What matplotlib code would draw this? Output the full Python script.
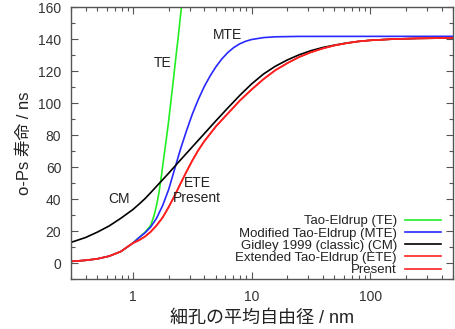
import matplotlib
matplotlib.use("Agg")
import matplotlib.pyplot as plt
from matplotlib.ticker import MultipleLocator, FixedLocator, NullFormatter

plt.rcParams['font.family'] = ['Liberation Sans', 'Noto Sans CJK JP']

# o-Ps lifetime (ns) vs mean free path (nm)
te_x = [0.3, 0.4, 0.5, 0.63, 0.79, 1.0, 1.12, 1.26, 1.41, 1.51, 1.58, 1.66, 1.74, 1.82,
        1.91, 2.0, 2.09, 2.19, 2.29, 2.40, 2.51, 2.63]
te_y = [1.0, 1.7, 2.6, 4.3, 7.2, 12.5, 15.8, 19.2, 23.5, 30.0, 36.0, 44.5, 55.0, 66.0,
        77.5, 89.0, 101.5, 114.5, 127.5, 140.5, 154.0, 167.5]

mte_x = [0.3, 0.4, 0.5, 0.63, 0.79, 1.0, 1.12, 1.26, 1.41, 1.58, 1.78, 2.0, 2.24, 2.51,
         2.82, 3.16, 3.55, 3.98, 4.47, 5.01, 5.62, 6.31, 7.08, 7.94, 8.91, 10, 12.6, 15.8,
         25.1, 500]
mte_y = [1.0, 1.7, 2.6, 4.3, 7.2, 12.5, 15.8, 18.8, 22.5, 28.0, 36.0, 46.0, 58.5, 71.0,
         82.5, 93.0, 102.2, 110.2, 117.0, 122.8, 127.7, 131.7, 134.8, 137.1, 138.7, 139.8,
         141.0, 141.5, 141.75, 141.8]

cm_x = [0.3, 0.4, 0.5, 0.63, 0.79, 1.0, 1.12, 1.26, 1.41, 1.58, 1.78, 2.0, 2.24, 2.51,
        3.16, 3.98, 5.01, 6.31, 7.94, 10, 12.6, 15.8, 20, 25.1, 31.6, 39.8, 50.1, 63.1,
        79.4, 100, 158, 251, 500]
cm_y = [12.9, 16.0, 19.3, 23.2, 28.0, 33.5, 36.7, 40.2, 44.0, 48.0, 52.1, 56.2, 60.3, 64.4,
        72.6, 80.8, 89.0, 97.0, 104.8, 112.0, 118.2, 123.0, 127.0, 130.2, 132.8, 134.8,
        136.3, 137.6, 138.6, 139.3, 140.1, 140.5, 140.8]

ete_x = [0.3, 0.4, 0.5, 0.63, 0.79, 1.0, 1.12, 1.26, 1.41, 1.58, 1.78, 2.0, 2.24, 2.51,
         2.82, 3.16, 3.55, 3.98, 5.01, 6.31, 7.94, 10, 12.6, 15.8, 20, 25.1, 31.6, 39.8,
         50.1, 63.1, 79.4, 100, 158, 251, 500]
ete_y = [1.0, 1.7, 2.6, 4.3, 7.2, 12.5, 14.2, 16.5, 19.5, 23.5, 28.5, 35.0, 42.0, 49.5,
         57.0, 64.0, 70.5, 76.0, 85.5, 93.5, 101.5, 108.5, 115.0, 120.5, 125.0, 128.8,
         131.8, 134.2, 136.1, 137.5, 138.6, 139.3, 140.1, 140.5, 140.8]

# Present curve lies on top of ETE
pr_x = ete_x
pr_y = ete_y

labels = ['Tao-Eldrup (TE)', 'Modified Tao-Eldrup (MTE)', 'Gidley 1999 (classic) (CM)',
          'Extended Tao-Eldrup (ETE)', 'Present']

fig = plt.figure(figsize=(4.56, 3.29), dpi=100)
ax = fig.add_axes([0.1557, 0.152, 0.8377, 0.826])

ax.plot(te_x, te_y, color='#22ee22', lw=1.2, label=labels[0])
ax.plot(mte_x, mte_y, color='#2828ff', lw=1.2, label=labels[1])
ax.plot(cm_x, cm_y, color='black', lw=1.2, label=labels[2])
ax.plot(ete_x, ete_y, color='#ff2020', lw=1.2, label=labels[3])
ax.plot(pr_x, pr_y, color='#ff2020', lw=1.2, label=labels[4])

ax.set_xscale('log')
ax.set_xlim(0.3, 500)
ax.set_ylim(-10, 160)

ax.set_xticks([1, 10, 100])
ax.set_xticklabels(['1', '10', '100'])
ax.xaxis.set_minor_locator(FixedLocator([m * 10**e for e in range(-1, 3) for m in range(2, 10)]))
ax.xaxis.set_minor_formatter(NullFormatter())
ax.set_yticks(range(0, 161, 20))
ax.yaxis.set_minor_locator(MultipleLocator(10))

ax.tick_params(which='both', direction='in', top=True, right=True, colors='#555555',
               labelcolor='#333333', labelsize=10)
ax.tick_params(which='major', length=5, width=0.8)
ax.tick_params(which='minor', length=3, width=0.8)
ax.tick_params(axis='y', pad=7)
ax.tick_params(axis='x', pad=8)
for s in ax.spines.values():
    s.set_color('#555555')
    s.set_linewidth(1.0)

ax.set_xlabel('細孔の平均自由径 / nm', fontsize=13, color='#222222', labelpad=4)
ax.set_ylabel('o-Ps 寿命 / ns', fontsize=12, color='#222222', labelpad=4)

# curve names
ax.text(1.78, 125, 'TE', fontsize=10, color='#222222', ha='center', va='center')
ax.text(6.3, 142.7, 'MTE', fontsize=10, color='#222222', ha='center', va='center')
ax.text(0.765, 40.2, 'CM', fontsize=10, color='#222222', ha='center', va='center')
ax.text(3.48, 50.2, 'ETE', fontsize=10, color='#222222', ha='center', va='center')
ax.text(3.48, 40.8, 'Present', fontsize=10, color='#222222', ha='center', va='center')

leg = ax.legend(loc='lower right', bbox_to_anchor=(0.9686, 0.01), frameon=False,
                markerfirst=False, fontsize=9.5, handlelength=2.7, handletextpad=0.65,
                labelspacing=0.0, borderaxespad=0, borderpad=0)
for t in leg.get_texts():
    t.set_color('#222222')

fig.savefig('out.png', dpi=100)
